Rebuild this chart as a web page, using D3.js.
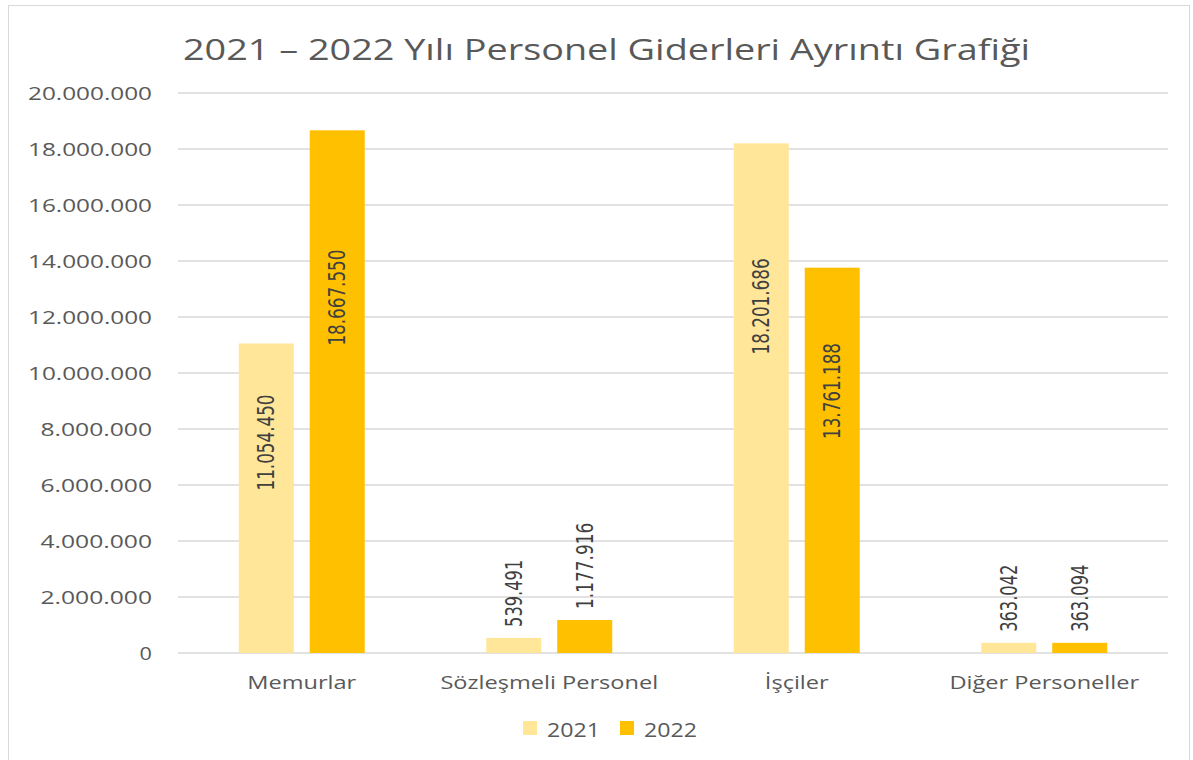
<!DOCTYPE html>
<html lang="tr">
<head>
<meta charset="UTF-8">
<title>2021 – 2022 Yılı Personel Giderleri Ayrıntı Grafiği</title>
<script src="https://d3js.org/d3.v7.min.js"></script>
<style>
    body { margin: 0; background: #ffffff; }
    svg { display: block; }
    .tick text { fill: #595959; }
</style>
</head>
<body>
<div id="chart"></div>
<script>
    // chart data
    const categories = ["Memurlar", "Sözleşmeli Personel", "İşçiler", "Diğer Personeller"];
    const years = ["2021", "2022"];
    const values2021 = [11054450, 539491, 18201686, 363042];
    const values2022 = [18667550, 1177916, 13761188, 363094];
    const yTicks = [0, 2000000, 4000000, 6000000, 8000000, 10000000, 12000000, 14000000, 16000000, 18000000, 20000000];

    const width = 1193, height = 760;
    const colors = { "2021": "#FFE699", "2022": "#FFC000" };
    const fmt = v => d3.format(",")(v).replace(/,/g, ".");

    const svg = d3.select("#chart").append("svg")
        .attr("width", width)
        .attr("height", height);

    // chart frame
    svg.append("rect")
        .attr("x", 8.5).attr("y", 5.5)
        .attr("width", 1181).attr("height", 780)
        .attr("fill", "#fff")
        .attr("stroke", "#d9d9d9");

    const margin = { left: 178, right: 25, top: 93, bottom: 107 };
    const x = d3.scaleBand().domain(categories)
        .range([margin.left, width - margin.right]);
    const y = d3.scaleLinear().domain([0, 20000000])
        .range([height - margin.bottom, margin.top]);

    // title
    svg.append("text")
        .attr("x", 183).attr("y", 60)
        .attr("textLength", 847).attr("lengthAdjust", "spacingAndGlyphs")
        .style("font-family", "'Open Sans', sans-serif")
        .style("font-size", "30px")
        .attr("fill", "#595959")
        .text("2021 – 2022 Yılı Personel Giderleri Ayrıntı Grafiği");

    // grid lines
    svg.append("g").selectAll("line")
        .data(yTicks)
        .enter().append("line")
        .attr("x1", margin.left).attr("x2", width - margin.right)
        .attr("y1", d => y(d)).attr("y2", d => y(d))
        .attr("stroke", "#d9d9d9")
        .attr("stroke-width", 1.5);

    // y axis labels
    const yAxis = svg.append("g")
        .attr("transform", `translate(${margin.left - 26},0)`)
        .call(d3.axisLeft(y).tickValues(yTicks).tickFormat(fmt).tickSize(0).tickPadding(0));
    yAxis.select(".domain").remove();
    yAxis.selectAll("text")
        .style("font-family", "'Open Sans', sans-serif")
        .style("font-size", "19px")
        .attr("textLength", d => fmt(d).length * 12.4)
        .attr("lengthAdjust", "spacingAndGlyphs");

    // x axis labels (stretched a little, like the original)
    const xAxis = svg.append("g")
        .attr("transform", `translate(0,${height - margin.bottom + 22})`)
        .call(d3.axisBottom(x).tickSize(0).tickPadding(0));
    xAxis.select(".domain").remove();
    xAxis.selectAll("text")
        .style("font-family", "'Open Sans', sans-serif")
        .style("font-size", "19px")
        .attr("dy", "0.71em")
        .each(function() {
            const w = this.getComputedTextLength();
            d3.select(this).attr("textLength", w * 1.24).attr("lengthAdjust", "spacingAndGlyphs");
        });

    // bars
    const x1 = d3.scaleBand().domain(years)
        .range([0, x.bandwidth()])
        .paddingInner(0.225).paddingOuter(0.856);

    const rows = categories.map((c, i) => ({
        category: c,
        items: [
            { year: "2021", value: values2021[i] },
            { year: "2022", value: values2022[i] }
        ]
    }));

    const groups = svg.append("g").selectAll("g")
        .data(rows)
        .enter().append("g")
        .attr("transform", d => `translate(${x(d.category)},0)`);

    groups.selectAll("rect")
        .data(d => d.items)
        .enter().append("rect")
        .attr("x", d => x1(d.year))
        .attr("width", x1.bandwidth())
        .attr("y", d => y(d.value))
        .attr("height", d => y(0) - y(d.value))
        .attr("fill", d => colors[d.year]);

    // value labels (rotated)
    groups.selectAll("text.val")
        .data(d => d.items)
        .enter().append("text")
        .attr("class", "val")
        .attr("transform", d => {
            const cx = x1(d.year) + x1.bandwidth() / 2;
            const big = d.value > 5000000;
            const cy = big ? y(d.value * 0.68) : y(d.value) - 11;
            return `translate(${cx + 8},${cy}) rotate(-90)`;
        })
        .attr("text-anchor", d => d.value > 5000000 ? "middle" : "start")
        .style("font-family", "'Liberation Sans Narrow', 'DejaVu Sans Condensed', sans-serif")
        .style("font-size", "23px")
        .attr("fill", "#404040")
        .attr("textLength", d => fmt(d.value).length * 9.6)
        .attr("lengthAdjust", "spacingAndGlyphs")
        .text(d => fmt(d.value));

    // legend
    const legend = svg.append("g").attr("transform", "translate(523,721)");
    const li = legend.selectAll("g")
        .data(years)
        .enter().append("g")
        .attr("transform", (d, i) => `translate(${i * 97},0)`);
    li.append("rect")
        .attr("width", 14).attr("height", 14)
        .attr("fill", d => colors[d]);
    li.append("text")
        .attr("x", 24).attr("y", 16)
        .style("font-family", "'Open Sans', sans-serif")
        .style("font-size", "20px")
        .attr("fill", "#595959")
        .attr("textLength", 53).attr("lengthAdjust", "spacingAndGlyphs")
        .text(d => d);
</script>
</body>
</html>
